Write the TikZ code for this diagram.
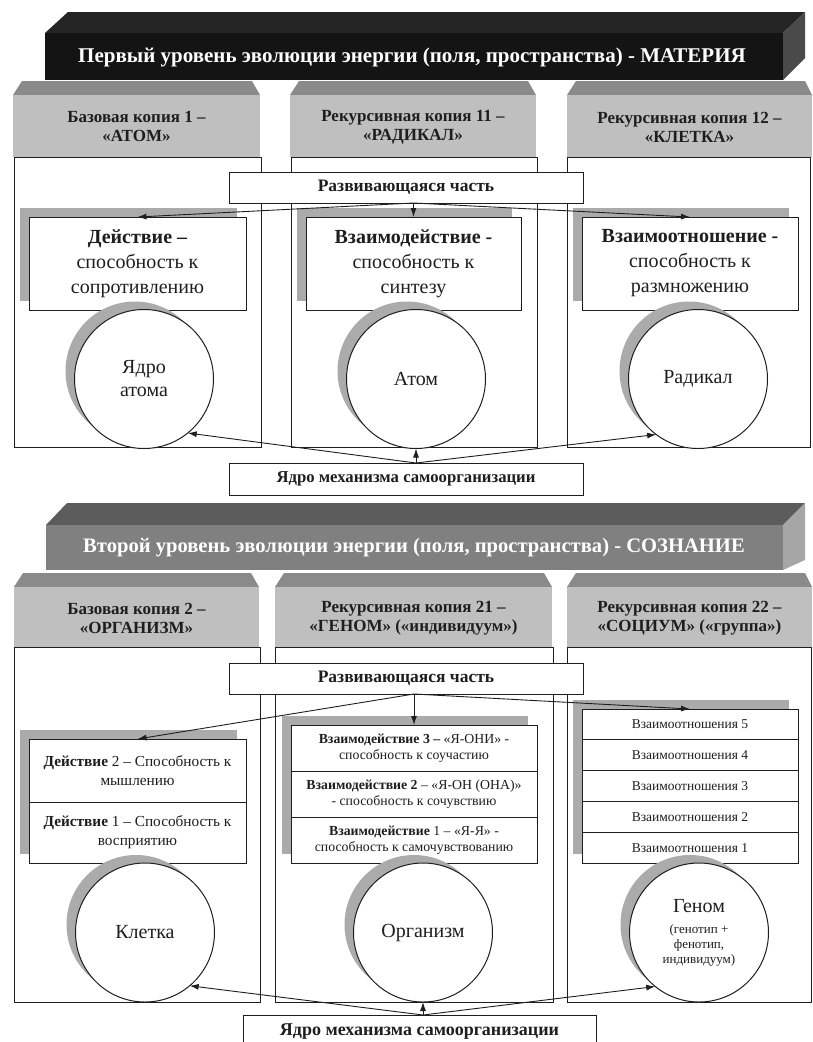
\documentclass[tikz,border=0pt]{standalone}
\usepackage{fontspec}
\setmainfont{Liberation Serif}
\usetikzlibrary{arrows.meta,shadows}
\definecolor{shd}{HTML}{ABABAB}
\definecolor{hfront}{HTML}{BFBFBF}
\definecolor{htop}{HTML}{8A8A8A}
\definecolor{lonetop}{HTML}{242424}
\definecolor{lonefront}{HTML}{141414}
\definecolor{loneside}{HTML}{4A4A4A}
\definecolor{ltwotop}{HTML}{5C5C5C}
\definecolor{ltwofront}{HTML}{808080}
\definecolor{ltwoside}{HTML}{A6A6A6}
\definecolor{ink}{HTML}{1E1E1E}
\newcommand{\fsz}[2]{\fontsize{#1}{#2}\selectfont}
\begin{document}
\begin{tikzpicture}[x=1pt,y=-1pt,
  col/.style={draw=ink, line width=0.8pt},
  box/.style={draw=ink, fill=white, line width=1pt, inner sep=2pt, outer sep=0pt, align=center, text=ink},
  sbox/.style={box, general shadow={fill=shd, shadow xshift=-9pt, shadow yshift=9pt}},
  circ/.style={circle, draw=ink, fill=white, line width=1pt, minimum size=139pt, inner sep=0pt, outer sep=0pt, align=center, text=ink, font=\fsz{20}{23},
     general shadow={fill=shd, shadow xshift=-9pt, shadow yshift=8pt}},
  titletext/.style={text=white, font=\bfseries\fsz{21}{24}},
  hdrtext/.style={text=ink, align=center, font=\bfseries\fsz{17}{19}},
  devbox/.style={box, minimum width=354pt, minimum height=31pt, font=\bfseries\fsz{17.5}{19}},
  actbox/.style={sbox, minimum height=93pt, font=\fsz{20}{25}},
  arr/.style={-{Latex[length=9pt,width=6pt]}, line width=0.9pt, draw=ink},
]
\useasboundingbox (0,0) rectangle (813,1042);

% ===== Level 1 bar =====
\fill[lonetop] (45,33) -- (68,12) -- (805,12) -- (783,33) -- cycle;
\fill[lonefront] (45,33) rectangle (783,80);
\fill[loneside] (783,33) -- (805,12) -- (805,58) -- (783,80) -- cycle;
\node[titletext] (t1) at (412,57) {Первый уровень эволюции энергии (поля, пространства) - МАТЕРИЯ};

% headers level 1
\fill[htop] (13,95) -- (22,81) -- (252,81) -- (260,95) -- cycle;
\fill[hfront] (13,95) rectangle (260,157);
\fill[htop] (290,95) -- (299,81) -- (528,81) -- (536,95) -- cycle;
\fill[hfront] (290,95) rectangle (536,157);
\fill[htop] (567,95) -- (576,81) -- (805,81) -- (812,95) -- cycle;
\fill[hfront] (567,95) rectangle (812,157);
\node[hdrtext] (h11) at (136.5,126) {Базовая копия 1 –\\«АТОМ»};
\node[hdrtext] (h12) at (413,127) {Рекурсивная копия 11 –\\«РАДИКАЛ»};
\node[hdrtext] (h13) at (689.5,127) {Рекурсивная копия 12 –\\«КЛЕТКА»};

% columns level 1
\draw[col] (14,157) rectangle (261,447);
\draw[col] (291,157) rectangle (537,447);
\draw[col] (567,157) rectangle (810,447);

\node[devbox] (d1) at (406,187.5) {Развивающаяся часть};

\node[actbox, minimum width=217pt] (a1) at (137.5,263.5) {{\bfseries Действие –}\\способность к\\сопротивлению};
\node[actbox, minimum width=215pt] (a2) at (413.5,263.5) {{\bfseries Взаимодействие -}\\способность к\\синтезу};
\node[actbox, minimum width=216pt] (a3) at (690,263.5) {{\bfseries Взаимоотношение -}\\способность к\\размножению};

\node[circ] (c1) at (144,379) {Ядро\\атома};
\node[circ] (c2) at (416,379) {Атом};
\node[circ] (c3) at (698,379) {Радикал};

\node[devbox, minimum height=32pt, font=\bfseries\fsz{16.7}{19}] (b1) at (406,479) {Ядро механизма самоорганизации};

\coordinate (o1) at (d1.south -| a2.north);
\draw[arr] (o1) -- (a1.north);
\draw[arr] (o1) -- (a2.north);
\draw[arr] (o1) -- (a3.north);
\coordinate (p1) at (b1.north -| c2.south);
\draw[arr] (p1) -- (c1.-51);
\draw[arr] (p1) -- (c2.south);
\draw[arr] (p1) -- (c3.233);

% ===== Level 2 bar =====
\fill[ltwotop] (46,525) -- (67,503) -- (805,503) -- (783,525) -- cycle;
\fill[ltwofront] (46,525) rectangle (783,570);
\fill[ltwoside] (783,525) -- (805,503) -- (805,560) -- (783,570) -- cycle;
\node[titletext, font=\bfseries\fsz{20.6}{24}] (t2) at (414,547.5) {Второй уровень эволюции энергии (поля, пространства) - СОЗНАНИЕ};

% headers level 2
\fill[htop] (14,587) -- (23,573) -- (251,573) -- (259,587) -- cycle;
\fill[hfront] (14,587) rectangle (259,647);
\fill[htop] (275,587) -- (284,573) -- (544,573) -- (552,587) -- cycle;
\fill[hfront] (275,587) rectangle (552,647);
\fill[htop] (567,587) -- (576,573) -- (805,573) -- (812,587) -- cycle;
\fill[hfront] (567,587) rectangle (812,647);
\node[hdrtext] (h21) at (136.5,618) {Базовая копия 2 –\\«ОРГАНИЗМ»};
\node[hdrtext] (h22) at (413.5,618) {Рекурсивная копия 21 –\\«ГЕНОМ» («индивидуум»)};
\node[hdrtext] (h23) at (689.5,618) {Рекурсивная копия 22 –\\«СОЦИУМ» («группа»)};

% columns level 2
\draw[col] (14,647) rectangle (260,1002);
\draw[col] (275,647) rectangle (553,1002);
\draw[col] (567,647) rectangle (811,1002);

\node[devbox] (d2) at (406,678.5) {Развивающаяся часть};

% stack shadows
\fill[shd] (20,730) rectangle (237,854);
\fill[shd] (282,716) rectangle (528,854);
\fill[shd] (573,700) rectangle (789,854);

% col 1 stack
\node[box, minimum width=217pt, minimum height=63pt, font=\fsz{15.3}{19}] (s11) at (137.5,770.5) {{\bfseries Действие} 2 – Способность к\\мышлению};
\node[box, minimum width=217pt, minimum height=61pt, font=\fsz{15.3}{19}, anchor=north] (s12) at (s11.south) {{\bfseries Действие} 1 – Способность к\\восприятию};

% col 2 stack
\node[box, minimum width=246pt, minimum height=46pt, font=\fsz{13.8}{16}] (s21) at (414,748) {{\bfseries Взаимодействие 3 –} «Я-ОНИ» -\\способность к соучастию};
\node[box, minimum width=246pt, minimum height=46pt, font=\fsz{13.8}{16}, anchor=north] (s22) at (s21.south) {{\bfseries Взаимодействие 2} – «Я-ОН (ОНА)»\\- способность к сочувствию};
\node[box, minimum width=246pt, minimum height=46pt, font=\fsz{13.8}{16}, anchor=north] (s23) at (s22.south) {{\bfseries Взаимодействие} 1 – «Я-Я» -\\способность к самочувствованию};

% col 3 stack
\node[box, minimum width=216pt, minimum height=30.8pt, font=\fsz{13.5}{16}] (s31) at (690,724.4) {Взаимоотношения 5};
\node[box, minimum width=216pt, minimum height=30.8pt, font=\fsz{13.5}{16}, anchor=north] (s32) at (s31.south) {Взаимоотношения 4};
\node[box, minimum width=216pt, minimum height=30.8pt, font=\fsz{13.5}{16}, anchor=north] (s33) at (s32.south) {Взаимоотношения 3};
\node[box, minimum width=216pt, minimum height=30.8pt, font=\fsz{13.5}{16}, anchor=north] (s34) at (s33.south) {Взаимоотношения 2};
\node[box, minimum width=216pt, minimum height=30.8pt, font=\fsz{13.5}{16}, anchor=north] (s35) at (s34.south) {Взаимоотношения 1};

\node[circ] (c21) at (145,932.5) {Клетка};
\node[circ] (c22) at (423,932.5) {Организм};
\node[circ, font=\fsz{13}{15}] (c23) at (699,932.5) {{\fsz{20}{15}Геном}\\[6pt](генотип +\\фенотип,\\индивидуум)};

\node[devbox, minimum width=353pt, minimum height=34pt, font=\bfseries\fsz{18}{20}] (b2) at (419.5,1032) {Ядро механизма самоорганизации};

\coordinate (o2) at (d2.south -| s21.north);
\draw[arr] (o2) -- (s11.north);
\draw[arr] (o2) -- (s21.north);
\draw[arr] (o2) -- (s31.north);
\coordinate (p2) at (b2.north -| c22.south);
\draw[arr] (p2) -- (c21.-50);
\draw[arr] (p2) -- (c22.south);
\draw[arr] (p2) -- (c23.231);
\end{tikzpicture}
\end{document}
